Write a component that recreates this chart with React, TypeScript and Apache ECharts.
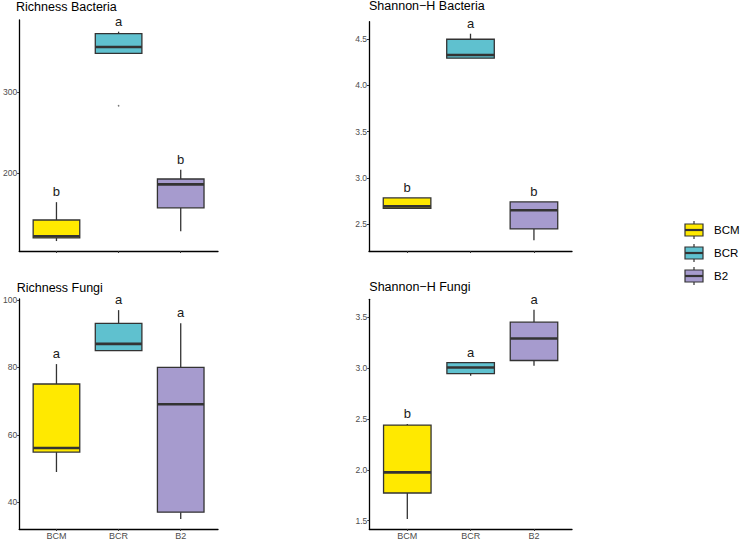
import React, { useEffect, useRef } from "react";
import * as echarts from "echarts";

// Treatment groups and their fills
const groups = ["BCM", "BCR", "B2"];
const groupColors = ["#FFE900", "#5FC1CF", "#A69BCE"];

// Box statistics per group: [lower whisker, Q1, median, Q3, upper whisker]
const richnessBacteria = [
  [116, 120, 122, 142, 164],
  [347.8, 347.8, 355.6, 372, 374.5],
  [128, 157, 186, 192.6, 204],
];
const richnessBacteriaOutliers = [[2, 283]];
const richnessBacteriaLetters = ["b", "a", "b"];

const shannonBacteria = [
  [2.672, 2.672, 2.693, 2.784, 2.784],
  [4.295, 4.295, 4.33, 4.5, 4.56],
  [2.326, 2.449, 2.65, 2.741, 2.741],
];
const shannonBacteriaLetters = ["b", "a", "b"];

const richnessFungi = [
  [49, 54.9, 56.1, 75.1, 81],
  [85, 85, 87, 93.1, 97],
  [35.1, 37.1, 69.1, 80, 93.1],
];
const richnessFungiLetters = ["a", "a", "a"];

const shannonFungi = [
  [1.517, 1.772, 1.975, 2.44, 2.45],
  [2.924, 2.947, 3.006, 3.055, 3.055],
  [3.023, 3.075, 3.291, 3.452, 3.573],
];
const shannonFungiLetters = ["b", "a", "a"];

// Y tick values per panel
const richnessBacteriaTicks = [200, 300];
const shannonBacteriaTicks = [2.5, 3.0, 3.5, 4.0, 4.5];
const richnessFungiTicks = [40, 60, 80, 100];
const shannonFungiTicks = [1.5, 2.0, 2.5, 3.0, 3.5];

const FONT = "'Liberation Sans', Arial, Helvetica, sans-serif";

type Panel = {
  title: string;
  stats: number[][];
  letters: string[];
  ticks: number[];
  yMin: number;
  yMax: number;
  grid: { left: number; top: number; width: number; height: number };
  titleY: number;
  showXLabels: boolean;
  tickFmt: (v: number) => string;
};

const panels: Panel[] = [
  {
    title: "Richness Bacteria",
    stats: richnessBacteria,
    letters: richnessBacteriaLetters,
    ticks: richnessBacteriaTicks,
    yMin: 103.7,
    yMax: 388.9,
    grid: { left: 16, top: 20, width: 202, height: 231 },
    titleY: 6.7,
    showXLabels: false,
    tickFmt: (v) => String(v),
  },
  {
    title: "Shannon\u2212H Bacteria",
    stats: shannonBacteria,
    letters: shannonBacteriaLetters,
    ticks: shannonBacteriaTicks,
    yMin: 2.21,
    yMax: 4.69,
    grid: { left: 369, top: 21.7, width: 203, height: 229.3 },
    titleY: 5.8,
    showXLabels: false,
    tickFmt: (v) => v.toFixed(1),
  },
  {
    title: "Richness Fungi",
    stats: richnessFungi,
    letters: richnessFungiLetters,
    ticks: richnessFungiTicks,
    yMin: 32.1,
    yMax: 100.3,
    grid: { left: 16.7, top: 299, width: 201.3, height: 230.3 },
    titleY: 288,
    showXLabels: true,
    tickFmt: (v) => String(v),
  },
  {
    title: "Shannon\u2212H Fungi",
    stats: shannonFungi,
    letters: shannonFungiLetters,
    ticks: shannonFungiTicks,
    yMin: 1.418,
    yMax: 3.677,
    grid: { left: 369.3, top: 299.3, width: 202.7, height: 230 },
    titleY: 287.4,
    showXLabels: true,
    tickFmt: (v) => v.toFixed(1),
  },
];

function makeRenderItem(letters: string[]) {
  return (params: any, api: any) => {
    const pos = api.value(0);
    const i = pos - 1;
    const pMin = api.coord([pos, api.value(1)]);
    const pQ1 = api.coord([pos, api.value(2)]);
    const pMed = api.coord([pos, api.value(3)]);
    const pQ3 = api.coord([pos, api.value(4)]);
    const pMax = api.coord([pos, api.value(5)]);
    const x = pMed[0];
    const bw = api.size([0.75, 0])[0];
    const stroke = "#333333";
    return {
      type: "group",
      children: [
        {
          type: "line",
          shape: { x1: x, y1: pQ3[1], x2: x, y2: pMax[1] },
          style: { stroke, lineWidth: 1.3 },
        },
        {
          type: "line",
          shape: { x1: x, y1: pQ1[1], x2: x, y2: pMin[1] },
          style: { stroke, lineWidth: 1.3 },
        },
        {
          type: "rect",
          shape: { x: x - bw / 2, y: pQ3[1], width: bw, height: pQ1[1] - pQ3[1] },
          style: { fill: groupColors[i], stroke, lineWidth: 1.3 },
        },
        {
          type: "line",
          shape: { x1: x - bw / 2, y1: pMed[1], x2: x + bw / 2, y2: pMed[1] },
          style: { stroke, lineWidth: 2.6 },
        },
        {
          type: "text",
          x: x,
          y: pMax[1] - 10.5,
          style: {
            text: letters[i],
            fill: "#1a1a1a",
            font: `13px ${FONT}`,
            align: "center",
            verticalAlign: "middle",
          },
        },
      ],
    };
  };
}

export default function App() {
  const ref = useRef<HTMLDivElement>(null);

  useEffect(() => {
    if (!ref.current) return;
    const chart = echarts.init(ref.current, undefined, { renderer: "svg" });

    const grids = panels.map((p) => ({ ...p.grid, containLabel: false }));
    const xAxes = panels.map((p, k) => ({
      type: "value",
      gridIndex: k,
      min: 0.4,
      max: 3.6,
      splitLine: { show: false },
      axisLine: { show: true, onZero: false, lineStyle: { color: "#000", width: 1.3 } },
      axisTick: {
        show: true,
        customValues: [1, 2, 3],
        length: 2,
        lineStyle: { color: "#333", width: 1 },
      },
      axisLabel: {
        show: p.showXLabels,
        customValues: [1, 2, 3],
        formatter: (v: number) => groups[Math.round(v) - 1] ?? "",
        color: "#4d4d4d",
        fontSize: 9,
        fontFamily: FONT,
        margin: 2,
      },
    }));
    const yAxes = panels.map((p, k) => ({
      type: "value",
      gridIndex: k,
      min: p.yMin,
      max: p.yMax,
      splitLine: { show: false },
      axisLine: { show: true, onZero: false, lineStyle: { color: "#000", width: 1.3 } },
      axisTick: {
        show: true,
        customValues: p.ticks,
        length: 2,
        lineStyle: { color: "#333", width: 1 },
      },
      axisLabel: {
        show: true,
        customValues: p.ticks,
        formatter: (v: number) => p.tickFmt(v),
        color: "#4d4d4d",
        fontSize: 8.5,
        fontFamily: FONT,
        margin: 2,
      },
    }));

    const series: any[] = panels.map((p, k) => ({
      type: "custom",
      xAxisIndex: k,
      yAxisIndex: k,
      renderItem: makeRenderItem(p.letters),
      encode: { x: 0, y: [1, 2, 3, 4, 5] },
      data: p.stats.map((s, i) => [i + 1, ...s]),
      clip: false,
    }));
    series.push({
      type: "scatter",
      xAxisIndex: 0,
      yAxisIndex: 0,
      data: richnessBacteriaOutliers,
      symbol: "circle",
      symbolSize: 1.6,
      itemStyle: { color: "#555" },
    });

    // Panel titles
    const titles = panels.map((p) => ({
      type: "text",
      x: p.grid.left,
      y: p.titleY,
      style: {
        text: p.title,
        fill: "#000",
        font: `12.5px ${FONT}`,
        align: "left",
        verticalAlign: "middle",
      },
    }));

    // Legend keys drawn as small boxplot glyphs
    const legendRows = [230, 253, 276];
    const legendItems: any[] = [];
    groups.forEach((g, i) => {
      const cy = legendRows[i];
      const lx = 685;
      const kw = 18;
      legendItems.push(
        {
          type: "line",
          shape: { x1: lx + kw / 2, y1: cy - 9, x2: lx + kw / 2, y2: cy + 9 },
          style: { stroke: "#333", lineWidth: 1.2 },
        },
        {
          type: "rect",
          shape: { x: lx, y: cy - 6, width: kw, height: 12 },
          style: { fill: groupColors[i], stroke: "#333", lineWidth: 1.2 },
        },
        {
          type: "line",
          shape: { x1: lx, y1: cy, x2: lx + kw, y2: cy },
          style: { stroke: "#333", lineWidth: 2.2 },
        },
        {
          type: "text",
          x: 714,
          y: cy,
          style: {
            text: g,
            fill: "#000",
            font: `11.5px ${FONT}`,
            align: "left",
            verticalAlign: "middle",
          },
        }
      );
    });

    chart.setOption({
      animation: false,
      backgroundColor: "#ffffff",
      grid: grids,
      xAxis: xAxes,
      yAxis: yAxes,
      series,
      graphic: { elements: [...titles, ...legendItems] },
    });

    return () => chart.dispose();
  }, []);

  return (
    <div
      ref={ref}
      style={{ position: "fixed", left: 0, top: 0, width: 740, height: 540, background: "#fff" }}
    />
  );
}
